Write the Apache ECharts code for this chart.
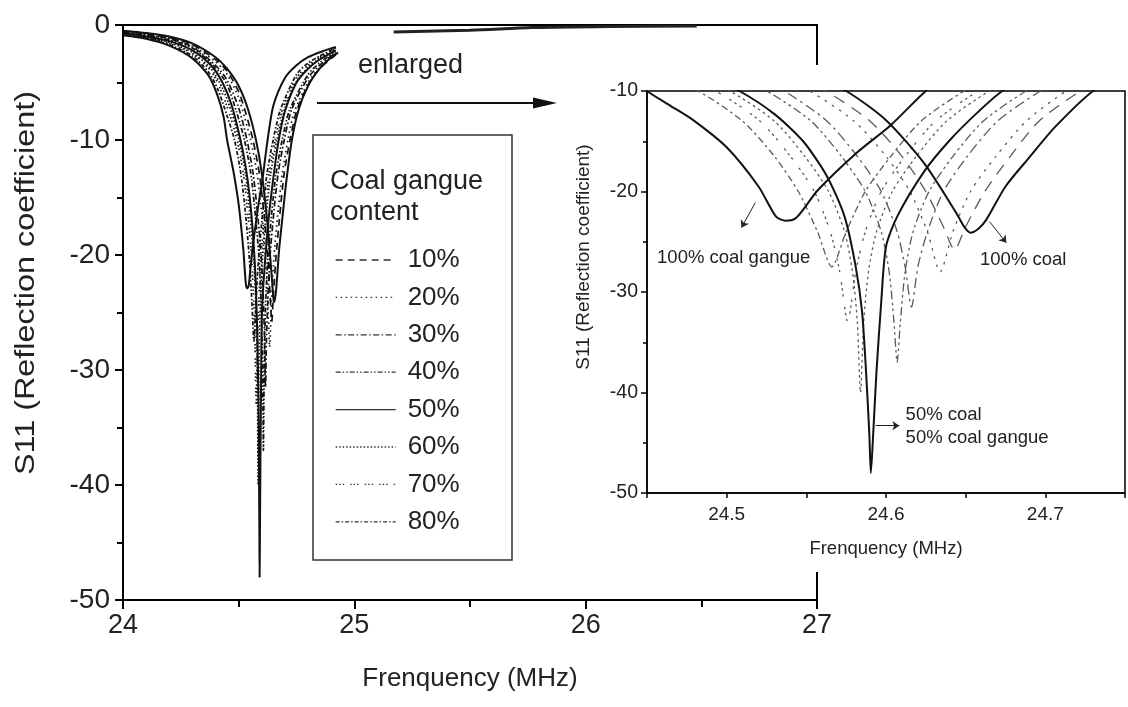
<!DOCTYPE html>
<html>
<head>
<meta charset="UTF-8">
<title>S11 vs frequency, coal gangue content</title>
<script src="https://cdn.jsdelivr.net/npm/echarts@6/dist/echarts.min.js"></script>
<style>
    html, body { margin: 0; padding: 0; background: #fff; }
    #main { position: absolute; left: 0; top: 0; width: 1128px; height: 707px; }
    #inset { position: absolute; left: 560px; top: 65px; width: 568px; height: 507px; background: #fff; }
</style>
</head>
<body>
<div id="main"></div>
<div id="inset"></div>
<script>
    // curves, [MHz, dB]
    const coal100 = [[24.00,-0.5],[24.10,-0.7],[24.20,-1.0],[24.30,-1.6],[24.40,-2.8],[24.45,-3.8],[24.50,-5.3],[24.54,-7.3],[24.575,-10.0],[24.60,-12.9],[24.624,-17.2],[24.644,-22.1],[24.649,-23.5],[24.653,-24.1],[24.658,-23.7],[24.663,-22.8],[24.675,-19.5],[24.69,-16.6],[24.706,-13.6],[24.73,-10.0],[24.76,-7.3],[24.80,-5.3],[24.85,-3.8],[24.90,-2.8],[24.93,-2.4]];
    const g10 = [[24.00,-0.55],[24.10,-0.75],[24.20,-1.1],[24.30,-1.7],[24.40,-3.0],[24.45,-4.0],[24.50,-5.8],[24.53,-7.6],[24.562,-10.0],[24.59,-13.0],[24.61,-16.5],[24.625,-20.0],[24.636,-23.5],[24.643,-25.8],[24.650,-23.5],[24.662,-20.0],[24.678,-16.5],[24.696,-13.0],[24.722,-10.0],[24.75,-7.5],[24.80,-5.2],[24.85,-3.8],[24.92,-2.6]];
    const g20 = [[24.00,-0.6],[24.10,-0.8],[24.20,-1.15],[24.30,-1.8],[24.40,-3.2],[24.45,-4.3],[24.50,-6.3],[24.525,-8.0],[24.552,-10.0],[24.58,-13.0],[24.60,-16.5],[24.615,-20.0],[24.626,-24.0],[24.634,-28.0],[24.642,-24.0],[24.653,-20.0],[24.669,-16.5],[24.688,-13.0],[24.713,-10.0],[24.74,-7.6],[24.80,-5.0],[24.85,-3.7],[24.92,-2.5]];
    const g30 = [[24.00,-0.6],[24.10,-0.85],[24.20,-1.2],[24.30,-1.9],[24.40,-3.5],[24.45,-4.8],[24.50,-7.2],[24.536,-10.0],[24.563,-13.0],[24.582,-16.5],[24.597,-20.0],[24.607,-24.0],[24.612,-27.5],[24.616,-31.5],[24.620,-27.5],[24.626,-24.0],[24.636,-20.0],[24.651,-16.5],[24.67,-13.0],[24.697,-10.0],[24.73,-7.3],[24.80,-4.6],[24.85,-3.5],[24.92,-2.4]];
    const g40 = [[24.00,-0.65],[24.10,-0.9],[24.20,-1.3],[24.30,-2.0],[24.40,-3.7],[24.45,-5.2],[24.49,-7.5],[24.525,-10.0],[24.553,-13.0],[24.572,-16.5],[24.587,-20.0],[24.597,-24.0],[24.602,-28.0],[24.605,-33.0],[24.607,-37.0],[24.609,-33.0],[24.612,-28.0],[24.617,-24.0],[24.627,-20.0],[24.642,-16.5],[24.661,-13.0],[24.688,-10.0],[24.72,-7.4],[24.80,-4.3],[24.85,-3.3],[24.92,-2.3]];
    const g50 = [[24.00,-0.7],[24.10,-1.0],[24.20,-1.4],[24.30,-2.2],[24.38,-3.5],[24.43,-5.0],[24.47,-7.0],[24.508,-10.0],[24.53,-12.3],[24.548,-15.0],[24.563,-18.5],[24.574,-22.5],[24.581,-27.5],[24.585,-32.0],[24.5875,-38.0],[24.5895,-44.0],[24.5905,-48.0],[24.592,-44.0],[24.594,-38.0],[24.597,-31.0],[24.600,-25.5],[24.607,-22.5],[24.624,-18.0],[24.640,-14.9],[24.657,-12.2],[24.673,-10.0],[24.70,-7.5],[24.75,-5.0],[24.80,-3.8],[24.85,-3.0],[24.92,-2.2]];
    const g60 = [[24.00,-0.75],[24.10,-1.05],[24.20,-1.5],[24.30,-2.4],[24.38,-3.8],[24.43,-5.5],[24.47,-7.6],[24.502,-10.0],[24.53,-13.0],[24.549,-16.5],[24.564,-20.0],[24.574,-24.0],[24.579,-28.0],[24.582,-33.0],[24.584,-40.0],[24.586,-33.0],[24.589,-28.0],[24.594,-24.0],[24.604,-20.0],[24.619,-16.5],[24.638,-13.0],[24.665,-10.0],[24.70,-7.2],[24.75,-4.9],[24.80,-3.7],[24.85,-2.9],[24.92,-2.1]];
    const g70 = [[24.00,-0.8],[24.10,-1.1],[24.20,-1.6],[24.30,-2.5],[24.38,-4.0],[24.42,-5.5],[24.46,-7.7],[24.493,-10.0],[24.521,-13.0],[24.54,-16.5],[24.555,-20.0],[24.565,-24.0],[24.571,-28.0],[24.576,-33.0],[24.581,-28.0],[24.587,-24.0],[24.597,-20.0],[24.612,-16.5],[24.631,-13.0],[24.658,-10.0],[24.69,-7.3],[24.75,-4.6],[24.80,-3.5],[24.85,-2.8],[24.92,-2.0]];
    const g80 = [[24.00,-0.85],[24.10,-1.15],[24.20,-1.7],[24.30,-2.7],[24.37,-4.1],[24.41,-5.6],[24.45,-7.9],[24.482,-10.0],[24.51,-13.0],[24.53,-16.5],[24.545,-20.0],[24.557,-24.0],[24.566,-27.5],[24.575,-24.0],[24.587,-20.0],[24.603,-16.5],[24.622,-13.0],[24.649,-10.0],[24.68,-7.4],[24.75,-4.3],[24.80,-3.3],[24.85,-2.7],[24.92,-2.0]];
    const gangue100 = [[24.00,-0.9],[24.10,-1.2],[24.20,-1.8],[24.30,-2.9],[24.37,-4.4],[24.41,-6.2],[24.435,-8.0],[24.45,-10.0],[24.465,-11.5],[24.479,-12.9],[24.50,-15.6],[24.52,-19.5],[24.531,-22.5],[24.537,-22.9],[24.543,-22.7],[24.549,-21.6],[24.557,-19.9],[24.582,-16.1],[24.603,-13.4],[24.625,-10.0],[24.65,-7.0],[24.70,-4.6],[24.75,-3.5],[24.80,-2.8],[24.86,-2.3],[24.92,-1.9]];
    // stray trace lying along the top frame
    const topTrace = [[25.17,-0.6],[25.5,-0.45],[25.77,-0.22],[26.1,-0.12],[26.48,-0.08]];

    const curveNames = ['100% coal', '10%', '20%', '30%', '40%', '50%', '60%', '70%', '80%', '100% coal gangue'];
    const curveData = [coal100, g10, g20, g30, g40, g50, g60, g70, g80, gangue100];
    const legendNames = ['10%', '20%', '30%', '40%', '50%', '60%', '70%', '80%'];

    const mainXTicks = { min: 24, max: 27, step: 1 };
    const mainYTicks = { min: -50, max: 0, step: 10 };
    const insetXTicks = { min: 24.45, max: 24.75, step: 0.05 };
    const insetYTicks = { min: -50, max: -10, step: 10 };

    const dash = {
        '100% coal': 'solid',
        '10%': [7, 5],
        '20%': [1.5, 3.5],
        '30%': [6, 2.5, 1.5, 2.5],
        '40%': [5, 2, 1.5, 2, 1.5, 2],
        '50%': 'solid',
        '60%': [1.5, 2],
        '70%': [1.5, 2, 1.5, 2, 1.5, 6],
        '80%': [4, 2, 1.5, 2],
        '100% coal gangue': 'solid'
    };
    const isSolid = name => dash[name] === 'solid';
    // the enlarged view draws the same patterns with longer strokes
    const insetDash = name => dash[name].map(v => v * 1.7);

    const FONT = 'Liberation Sans, Arial, sans-serif';

    const main = echarts.init(document.getElementById('main'));
    const inset = echarts.init(document.getElementById('inset'));

    const mainSeries = curveNames.map((name, i) => ({
        name: name,
        type: 'line',
        data: curveData[i],
        smooth: 0.25,
        symbol: 'none',
        lineStyle: { color: '#111', width: isSolid(name) ? 2 : 1.7, type: dash[name] },
        itemStyle: { color: '#111' }
    }));
    mainSeries.push({
        name: 'trace',
        type: 'line',
        data: topTrace,
        smooth: 0.3,
        symbol: 'none',
        lineStyle: { color: '#222', width: 3 }
    });

    main.setOption({
        animation: false,
        grid: { left: 123, top: 25, right: 311, bottom: 107, show: true, borderColor: '#000', borderWidth: 2 },
        xAxis: {
            type: 'value',
            min: mainXTicks.min, max: mainXTicks.max, interval: mainXTicks.step,
            name: 'Frenquency (MHz)', nameLocation: 'middle', nameGap: 66,
            nameTextStyle: { fontFamily: FONT, fontSize: 26, color: '#222' },
            axisLine: { onZero: false, lineStyle: { color: '#000', width: 2 } },
            axisTick: { inside: false, length: 9, lineStyle: { color: '#000', width: 2 } },
            minorTick: { show: true, splitNumber: 2, length: 7, lineStyle: { color: '#000', width: 2 } },
            axisLabel: { fontFamily: FONT, fontSize: 27, color: '#222', margin: 12 },
            splitLine: { show: false }
        },
        yAxis: {
            type: 'value',
            min: mainYTicks.min, max: mainYTicks.max, interval: mainYTicks.step,
            axisLine: { onZero: false, lineStyle: { color: '#000', width: 2 } },
            axisTick: { inside: false, length: 8, lineStyle: { color: '#000', width: 2 } },
            minorTick: { show: true, splitNumber: 2, length: 6, lineStyle: { color: '#000', width: 2 } },
            axisLabel: { fontFamily: FONT, fontSize: 28, color: '#222', margin: 13 },
            splitLine: { show: false }
        },
        legend: {
            data: legendNames,
            orient: 'vertical',
            left: 330, top: 241,
            itemWidth: 60, itemHeight: 12, itemGap: 9.4,
            selectedMode: false,
            itemStyle: { color: 'rgba(0,0,0,0)', borderWidth: 0 },
            lineStyle: { width: 1.3, color: '#333' },
            textStyle: { fontFamily: FONT, fontSize: 26, color: '#222', lineHeight: 28, padding: [0, 0, 0, 7] }
        },
        graphic: [
            // y-axis title, stretched along its length like the source figure
            { type: 'text', x: 27, y: 283, rotation: Math.PI / 2, scaleX: 1.2,
              style: { text: 'S11 (Reflection coefficient)', font: '27px ' + FONT, fill: '#222', textAlign: 'center', textVerticalAlign: 'middle' }, z: 10 },
            { type: 'rect', shape: { x: 313, y: 135, width: 199, height: 425 },
              style: { fill: 'none', stroke: '#333', lineWidth: 1.5 }, z: 10 },
            { type: 'text', x: 330, y: 182, style: { text: 'Coal gangue', font: '27px ' + FONT, fill: '#222', textVerticalAlign: 'middle' }, z: 10 },
            { type: 'text', x: 330, y: 213, style: { text: 'content', font: '27px ' + FONT, fill: '#222', textVerticalAlign: 'middle' }, z: 10 },
            { type: 'text', x: 358, y: 66, style: { text: 'enlarged', font: '27px ' + FONT, fill: '#222', textVerticalAlign: 'middle' }, z: 10 },
            { type: 'line', shape: { x1: 317, y1: 103, x2: 540, y2: 103 }, style: { stroke: '#111', lineWidth: 2 }, z: 10 },
            { type: 'polygon', shape: { points: [[533, 97.5], [557, 103], [533, 108.5]] }, style: { fill: '#111' }, z: 10 }
        ],
        series: mainSeries
    });

    const insetSeries = curveNames.map((name, i) => ({
        name: name,
        type: 'line',
        data: curveData[i],
        smooth: 0.25,
        symbol: 'none',
        z: isSolid(name) ? 5 : 3,
        lineStyle: isSolid(name)
            ? { color: '#111', width: 2 }
            : { color: '#5a5a5a', width: 1.3, type: insetDash(name) }
    }));

    const arrowStyle = { color: '#222', width: 1, type: 'solid' };
    const noteLabel = { show: true, position: 'right', distance: 0, formatter: '{b}', fontFamily: FONT, fontSize: 18.5, color: '#222', lineHeight: 23, align: 'left' };

    function annotate(series, from, to, at, text) {
        series.markLine = {
            silent: true, symbol: ['none', 'arrow'], symbolSize: 7,
            lineStyle: arrowStyle, label: { show: false },
            data: [[{ coord: from }, { coord: to }]]
        };
        series.markPoint = {
            silent: true, symbol: 'circle', symbolSize: 1,
            itemStyle: { color: 'rgba(0,0,0,0)' }, label: noteLabel,
            data: [{ name: text, coord: at }]
        };
    }
    annotate(insetSeries[9], [24.518, -21.1], [24.5093, -23.6], [24.456, -26.6], '100% coal gangue');
    annotate(insetSeries[0], [24.665, -23.0], [24.6755, -25.1], [24.6587, -26.8], '100% coal');
    annotate(insetSeries[5], [24.5935, -43.3], [24.6084, -43.3], [24.612, -43.4], '50% coal\n50% coal gangue');

    inset.setOption({
        animation: false,
        grid: { left: 87, top: 26, right: -2, bottom: 79, show: true, borderColor: '#000', borderWidth: 1.5 },
        xAxis: {
            type: 'value',
            min: insetXTicks.min, max: insetXTicks.max, interval: insetXTicks.step,
            name: 'Frenquency (MHz)', nameLocation: 'middle', nameGap: 46,
            nameTextStyle: { fontFamily: FONT, fontSize: 18.5, color: '#222' },
            axisLine: { onZero: false, lineStyle: { color: '#000', width: 1.5 } },
            axisTick: { inside: false, length: 5, lineStyle: { color: '#000', width: 1.5 } },
            axisLabel: {
                fontFamily: FONT, fontSize: 19, color: '#222', margin: 12,
                formatter: v => Math.abs(v * 10 - Math.round(v * 10)) < 1e-6 ? v.toFixed(1) : ''
            },
            splitLine: { show: false }
        },
        yAxis: {
            type: 'value',
            min: insetYTicks.min, max: insetYTicks.max, interval: insetYTicks.step,
            name: 'S11 (Reflection coefficient)', nameLocation: 'middle', nameGap: 54,
            nameTextStyle: { fontFamily: FONT, fontSize: 19, color: '#222', padding: [0, 0, 0, 70] },
            axisLine: { onZero: false, lineStyle: { color: '#000', width: 1.5 } },
            axisTick: { inside: false, length: 6, lineStyle: { color: '#000', width: 1.5 } },
            minorTick: { show: true, splitNumber: 2, length: 4, lineStyle: { color: '#000', width: 1.5 } },
            axisLabel: { fontFamily: FONT, fontSize: 19.5, color: '#222', margin: 9 },
            splitLine: { show: false }
        },
        series: insetSeries
    });
</script>
</body>
</html>
